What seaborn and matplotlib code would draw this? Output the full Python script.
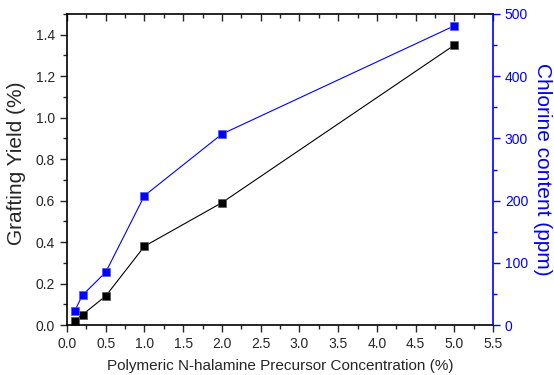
import numpy as np
import pandas as pd
import matplotlib
matplotlib.use('Agg')
import matplotlib.pyplot as plt
from matplotlib.ticker import MultipleLocator
import seaborn as sns

# data
conc = [0.1, 0.2, 0.5, 1.0, 2.0, 5.0]
graft_yield = [0.02, 0.05, 0.14, 0.38, 0.59, 1.35]
chlorine = [23, 48, 85, 208, 307, 481]

df = pd.DataFrame({'conc': conc, 'yield': graft_yield, 'cl': chlorine})

sns.set_style('ticks')
plt.rcParams['font.family'] = ['Liberation Sans', 'DejaVu Sans']

fig = plt.figure(figsize=(5.54, 3.75), dpi=100)
ax = fig.add_axes([0.121, 0.1333, 0.769, 0.8294])
ax2 = ax.twinx()

sns.lineplot(data=df, x='conc', y='yield', ax=ax, color='black', marker='s',
             markersize=6, markeredgecolor='#555555', markeredgewidth=0.5, linewidth=0.8)
sns.lineplot(data=df, x='conc', y='cl', ax=ax2, color='blue', marker='s',
             markersize=6, markeredgecolor='#5555ff', markeredgewidth=0.5, linewidth=0.8)

ax.set_xlim(0, 5.5)
ax.set_ylim(0, 1.5)
ax2.set_ylim(0, 500)

ax.xaxis.set_major_locator(MultipleLocator(0.5))
ax.xaxis.set_minor_locator(MultipleLocator(0.25))
ax.yaxis.set_major_locator(MultipleLocator(0.2))
ax.yaxis.set_minor_locator(MultipleLocator(0.1))
ax2.yaxis.set_major_locator(MultipleLocator(100))
ax2.yaxis.set_minor_locator(MultipleLocator(50))

ax.set_xlabel('Polymeric N-halamine Precursor Concentration (%)', fontsize=11, labelpad=6)
ax.set_ylabel('Grafting Yield (%)', fontsize=15, va='center')
ax.yaxis.set_label_coords(-0.118, 0.52)
ax2.set_ylabel('Chlorine content (ppm)', fontsize=15, color='blue', rotation=270,
               va='center', ha='center')
ax2.yaxis.set_label_coords(1.115, 0.5)

ax.tick_params(axis='both', which='major', labelsize=10, length=5, width=1, direction='out')
ax.tick_params(axis='both', which='minor', length=3, width=1, direction='out')
ax2.tick_params(axis='y', which='major', labelsize=10, length=5, width=1, colors='blue')
ax2.tick_params(axis='y', which='minor', length=3, width=1, colors='blue')

# top ticks point inward
ax.tick_params(axis='x', which='both', top=True, labeltop=False)
for t in ax.xaxis.get_major_ticks() + ax.xaxis.get_minor_ticks():
    t.tick2line.set_marker(3)

for s in ['left', 'bottom', 'top']:
    ax.spines[s].set_linewidth(1.2)
    ax.spines[s].set_color('black')
ax2.spines['right'].set_color('blue')
ax2.spines['right'].set_linewidth(1.2)
for s in ['left', 'bottom', 'top']:
    ax2.spines[s].set_visible(False)
ax.spines['right'].set_visible(False)

plt.savefig('out.png', dpi=100)
